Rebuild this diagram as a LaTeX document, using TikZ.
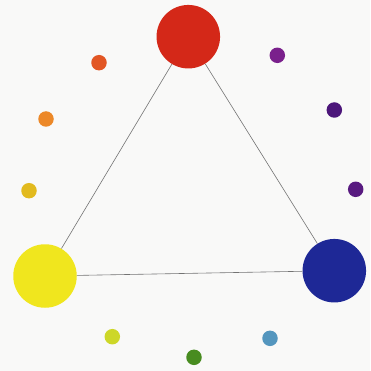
\documentclass[tikz,border=0pt]{standalone}
\begin{document}
\begin{tikzpicture}[x=1pt,y=-1pt,
  big/.style={circle,inner sep=0pt,minimum size=63.5pt,draw=none},
  dot/.style={circle,inner sep=0pt,minimum size=15.5pt,draw=none},
  edge/.style={draw=black!55,line width=0.6pt}]
\definecolor{cRed}{RGB}{212,40,24}
\definecolor{cYellow}{RGB}{240,230,30}
\definecolor{cBlue}{RGB}{30,40,150}
\definecolor{cOrRed}{RGB}{226,86,36}
\definecolor{cOrange}{RGB}{236,136,40}
\definecolor{cYelOr}{RGB}{226,186,30}
\definecolor{cYelGr}{RGB}{205,215,40}
\definecolor{cGreen}{RGB}{72,140,32}
\definecolor{cLtBlue}{RGB}{84,150,190}
\definecolor{cPurple}{RGB}{122,32,140}
\definecolor{cDkViol}{RGB}{76,22,122}
\definecolor{cViol}{RGB}{88,26,128}
\definecolor{bg}{RGB}{249,249,248}
\fill[bg] (0,0) rectangle (370,371);
\useasboundingbox (0,0) rectangle (370,371);
\node[big,fill=cRed] (red) at (188.3,36.7) {};
\node[big,fill=cYellow] (yellow) at (45,276) {};
\node[big,fill=cBlue] (blue) at (334.3,270.7) {};
\node[dot,fill=cOrRed] (orred) at (99,62.7) {};
\node[dot,fill=cOrange] (orange) at (46,119) {};
\node[dot,fill=cYelOr] (yelor) at (29,190.7) {};
\node[dot,fill=cYelGr] (yelgr) at (112.3,336.7) {};
\node[dot,fill=cGreen] (green) at (194,357.3) {};
\node[dot,fill=cLtBlue] (ltblue) at (270,338.3) {};
\node[dot,fill=cPurple] (purple) at (277.3,55.3) {};
\node[dot,fill=cDkViol] (dkviol) at (334.3,110) {};
\node[dot,fill=cViol] (viol) at (355.7,189.3) {};
\draw[edge] (red) -- (yellow);
\draw[edge] (red) -- (blue);
\draw[edge] (yellow) -- (blue);
\end{tikzpicture}
\end{document}
